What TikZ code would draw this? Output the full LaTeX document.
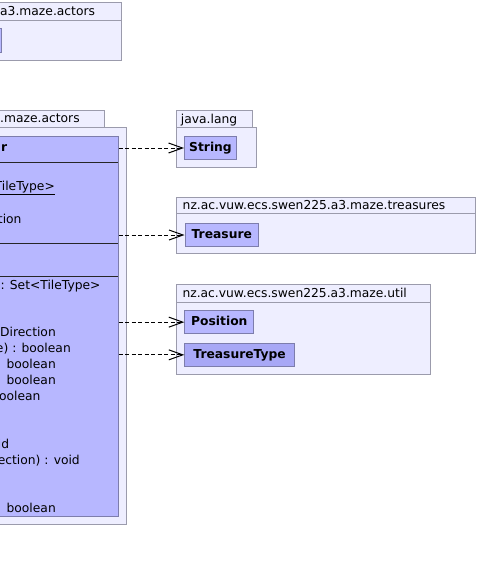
\documentclass[tikz,border=0pt]{standalone}
\usepackage{fontspec}
\setmainfont{DejaVu Sans}
\usetikzlibrary{arrows.meta}
\definecolor{pkgfill}{RGB}{238,238,255}
\definecolor{pkgline}{RGB}{155,155,172}
\definecolor{clsfill}{RGB}{183,183,255}
\definecolor{clsline}{RGB}{125,125,172}
\definecolor{enumfill}{RGB}{168,168,246}
\begin{document}
\begin{tikzpicture}[x=1pt,y=-1pt,
  pkg/.style={draw=pkgline, fill=pkgfill, line width=1pt},
  clsbox/.style={draw=clsline, fill=clsfill, line width=1pt, inner sep=0pt, anchor=north west,
    font=\fontsize{12.3}{14}\selectfont\bfseries, text height=9pt, text depth=2.5pt},
  pkgtxt/.style={anchor=base west, inner sep=0pt, font=\fontsize{12.3}{14}\selectfont},
  member/.style={anchor=base east, inner sep=0pt, font=\fontsize{12.3}{14}\selectfont},
  sepline/.style={draw=black!85, line width=1pt},
  dep/.style={draw=black, line width=1pt, dash pattern=on 4pt off 2.5pt,
    -{Straight Barb[length=14pt,width=10pt,line width=1pt]}}
]
\useasboundingbox (0,0) rectangle (478,562);
\clip (0,0) rectangle (478,562);
\fill[white] (0,0) rectangle (478,562);

% top actors package
\draw[pkg] (-10,2) rectangle (121,60);
\draw[pkgline, line width=1pt] (-10,20) -- (121,20);
\node[pkgtxt] (p1t) at (0,16) {a3.maze.actors};
\draw[draw=clsline, fill=clsfill, line width=1pt] (-10,28) rectangle (1.5,52);

% second actors package
\draw[pkg] (-10,127) rectangle (126,524);
\draw[pkg] (-10,110) rectangle (104,127);
\node[pkgtxt] (p2t) at (0,122.5) {.maze.actors};

% main class
\node[draw=clsline, fill=clsfill, line width=1pt, inner sep=0pt, anchor=north east,
      minimum width=140pt, minimum height=380pt] (cls) at (118.7,136) {};
\draw[sepline] (-10,162) -- (118.2,162);
\draw[sepline] (-10,243) -- (118.2,243);
\draw[sepline] (-10,276) -- (118.2,276);
\node[member, font=\fontsize{12.3}{14}\selectfont\bfseries] (hdr) at (7.3,151) {r};
\node[member] (a1) at (55,190.6) {TileType>};
\draw[black, line width=1pt] (0,194) -- (55,194);
\node[member] (a2) at (21.7,223.6) {tion};
\node[member] (m1) at (100.7,289.6) {) : Set<TileType>};
\node[member] (m2) at (56,336.6) {Direction};
\node[member] (m3) at (71,352.6) {e) : boolean};
\node[member] (m4) at (56,368.6) {boolean};
\node[member] (m5) at (56,384.6) {boolean};
\node[member] (m6) at (40.7,400.6) {oolean};
\node[member] (m7) at (9.3,448.6) {id};
\node[member] (m8) at (80,464.6) {ection) : void};
\node[member] (m9) at (56,512.6) {boolean};

% java.lang
\draw[pkg] (176.5,127) rectangle (256,167);
\draw[pkg] (176.5,110) rectangle (252,127);
\node[pkgtxt] (jlt) at (180.7,123.3) {java.lang};
\node[clsbox, minimum width=52pt, minimum height=23pt] (str) at (184,136) {String};

% treasures
\draw[pkg] (176.5,197.3) rectangle (475,253.3);
\draw[pkgline, line width=1pt] (176.5,213) -- (475,213);
\node[pkgtxt] (trt) at (182.5,209.8) {nz.ac.vuw.ecs.swen225.a3.maze.treasures};
\node[clsbox, minimum width=73.6pt, minimum height=22.4pt] (tre) at (184.5,223.3) {Treasure};

% util
\draw[pkg] (176.5,284.3) rectangle (430.5,374);
\draw[pkgline, line width=1pt] (176.5,302.3) -- (430.5,302.3);
\node[pkgtxt] (utt) at (182.3,297.6) {nz.ac.vuw.ecs.swen225.a3.maze.util};
\node[clsbox, minimum width=69pt, minimum height=23.3pt] (pos) at (184.3,310) {Position};
\node[clsbox, fill=enumfill, minimum width=109.7pt, minimum height=23.3pt] (tt) at (184.3,342.7) {TreasureType};

% dependencies
\draw[dep] (cls.east |- str.west) -- (str.west);
\draw[dep] (cls.east |- tre.west) -- (tre.west);
\draw[dep] (cls.east |- pos.west) -- (pos.west);
\draw[dep] (cls.east |- tt.west) -- (tt.west);
\end{tikzpicture}
\end{document}
